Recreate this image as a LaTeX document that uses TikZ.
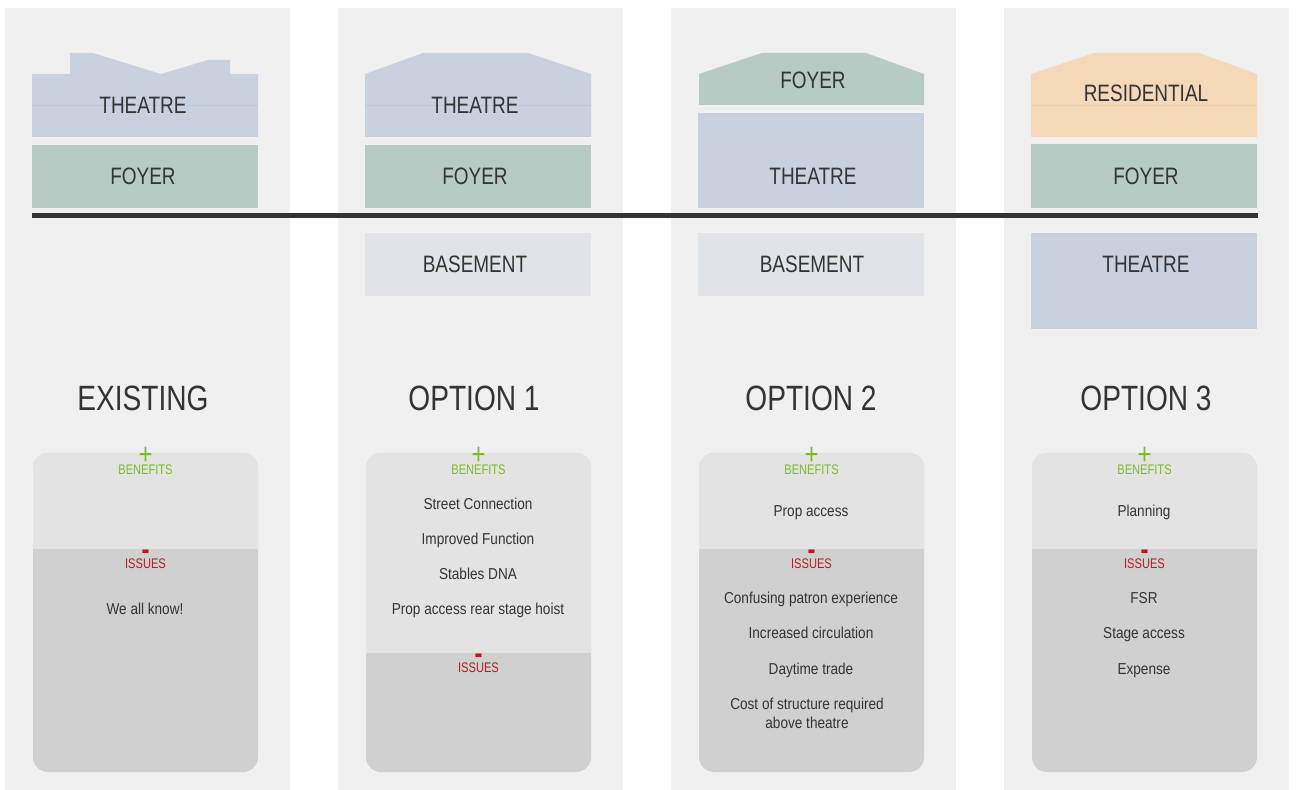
\documentclass[tikz,border=0pt]{standalone}
\usepackage{fontspec}
\setmainfont{Liberation Sans}[FakeStretch=0.8]
\newfontfamily\itemfont{Liberation Sans}[FakeStretch=0.86]
\usetikzlibrary{positioning,calc}
\definecolor{panelgray}{RGB}{240,240,240}
\definecolor{theatreblue}{RGB}{201,208,222}
\definecolor{foyergreen}{RGB}{183,203,197}
\definecolor{residorange}{RGB}{244,216,184}
\definecolor{basegray}{RGB}{224,227,232}
\definecolor{benefitgray}{RGB}{227,227,227}
\definecolor{issuegray}{RGB}{208,208,208}
\definecolor{textdark}{RGB}{52,52,52}
\definecolor{groundgray}{RGB}{51,51,51}
\definecolor{plusgreen}{RGB}{125,186,42}
\definecolor{minusred}{RGB}{192,22,29}

\begin{document}
\begin{tikzpicture}[
    x=0.02cm, y=-0.02cm,
    panel/.style={fill=panelgray},
    theatrefill/.style={fill=theatreblue},
    foyerfill/.style={fill=foyergreen},
    residfill/.style={fill=residorange},
    basefill/.style={fill=basegray},
    splitline/.style={line width=0.3pt},
    ground/.style={line width=0.09cm, draw=groundgray},
    blocklabel/.style={font=\fontsize{13.5}{16}\selectfont, text=textdark},
    optlabel/.style={font=\fontsize{20}{24}\selectfont, text=textdark},
    itemtext/.style={font=\itemfont\fontsize{9}{10.8}\selectfont,
                     text=textdark, align=center, anchor=base,
                     inner sep=0pt},
    benhdr/.style={font=\fontsize{7.9}{9}\selectfont, text=plusgreen,
                   inner sep=0pt},
    isshdr/.style={font=\fontsize{7.9}{9}\selectfont, text=minusred,
                   inner sep=0pt},
    plussign/.style={font=\fontsize{17}{18}\selectfont, text=plusgreen,
                     inner sep=0pt},
    minussign/.style={font=\fontsize{17}{18}\selectfont\bfseries,
                      text=minusred, inner sep=0pt, anchor=base},
  ]

  \useasboundingbox[fill=white] (0,0) rectangle (1296,790);

  % --- Column panels ---
  \foreach \px in {5,338,671,1004}
    \path[panel] (\px,8) rectangle ++(285,782);

  % --- EXISTING ---
  \path[theatrefill] (32,137) -- (32,74) -- (70,74) -- (70,53) -- (93,53)
    -- (161,74) -- (208,60) -- (230,60) -- (230,74) -- (258,74)
    -- (258,137) -- cycle;
  \draw[splitline, theatreblue!95!black] (32,105) -- (258,105);
  \node[blocklabel] (ex-theatre) at (143,105) {THEATRE};
  \path[foyerfill] (32,145) rectangle (258,208);
  \node[blocklabel] (ex-foyer) at (143,176) {FOYER};

  % --- OPTION 1 ---
  \path[theatrefill] (365,137) -- (365,74) -- (423,53) -- (528,53)
    -- (591,74) -- (591,137) -- cycle;
  \draw[splitline, theatreblue!95!black] (365,105) -- (591,105);
  \node[blocklabel] (o1-theatre) at (475,105) {THEATRE};
  \path[foyerfill] (365,145) rectangle (591,208);
  \node[blocklabel] (o1-foyer) at (475,176) {FOYER};
  \path[basefill] (365,233) rectangle (591,296);
  \node[blocklabel] (o1-basement) at (475,264) {BASEMENT};

  % --- OPTION 2 ---
  \path[foyerfill] (699,105) -- (699,74) -- (762,53) -- (866,53)
    -- (924,74) -- (924,105) -- cycle;
  \node[blocklabel] (o2-foyer) at (813,80) {FOYER};
  \path[theatrefill] (698,113) rectangle (924,208);
  \node[blocklabel] (o2-theatre) at (813,176) {THEATRE};
  \path[basefill] (698,233) rectangle (924,296);
  \node[blocklabel] (o2-basement) at (812,264) {BASEMENT};

  % --- OPTION 3 ---
  \path[residfill] (1031,137) -- (1031,74) -- (1094,53) -- (1199,53)
    -- (1257,74) -- (1257,137) -- cycle;
  \draw[splitline, residorange!96!black] (1031,105) -- (1257,105);
  \node[blocklabel] (o3-resid) at (1146,93) {RESIDENTIAL};
  \path[foyerfill] (1031,144) rectangle (1257,208);
  \node[blocklabel] (o3-foyer) at (1146,176) {FOYER};
  \path[theatrefill] (1031,233) rectangle (1257,329);
  \node[blocklabel] (o3-theatre) at (1146,264) {THEATRE};

  % Ground line
  \coordinate (gl-w) at (32,215.5);
  \coordinate (gl-e) at (1258,215.5);
  \draw[ground] (gl-w) -- (gl-e);

  % --- Option titles ---
  \node[optlabel] (ex-title) at (143,398) {EXISTING};
  \node[optlabel] (o1-title) at (474,398) {OPTION 1};
  \node[optlabel] (o2-title) at (811,398) {OPTION 2};
  \node[optlabel] (o3-title) at (1146,398) {OPTION 3};

  % --- Benefits / issues boxes ---
  \foreach \bx/\dy/\nm in {33/549/ex, 366/653/o1, 699/549/o2, 1032/549/o3} {
    \path[fill=issuegray, rounded corners=0.3cm]
      (\bx,453) rectangle ++(225,319);
    \begin{scope}
      \clip[rounded corners=0.3cm] (\bx,453) rectangle ++(225,319);
      \path[fill=benefitgray] (\bx,453) rectangle (\bx+225,\dy);
    \end{scope}
    \node[plussign] (\nm-plus) at (\bx+112.5,455.5) {+};
    \node[benhdr] (\nm-ben) at (\bx+112.5,470) {BENEFITS};
    \node[minussign] (\nm-minus) at (\bx+112.5,559.5-549+\dy) {-};
    \node[isshdr] (\nm-iss) at (\bx+112.5,\dy+15) {ISSUES};
  }

  % Existing items
  \node[itemtext] (ex-iss1) at (145,614.5) {We all know!};

  % Option 1 items
  \foreach \t/\yy [count=\i] in {Street Connection/504,
      Improved Function/539, Stables DNA/574,
      Prop access rear stage hoist/609}
    \node[itemtext] (o1-ben\i) at (478,\yy+5.5) {\t};

  % Option 2 items
  \node[itemtext] (o2-ben1) at (811,516.5) {Prop access};
  \foreach \t/\yy [count=\i] in {Confusing patron experience/598,
      Increased circulation/633, Daytime trade/669}
    \node[itemtext] (o2-iss\i) at (811,\yy+5.5) {\t};
  \node[itemtext, anchor=center] (o2-iss4) at (807,713.5)
    {Cost of structure required\\above theatre};

  % Option 3 items
  \node[itemtext] (o3-ben1) at (1144,516.5) {Planning};
  \foreach \t/\yy [count=\i] in {FSR/598, Stage access/633, Expense/669}
    \node[itemtext] (o3-iss\i) at (1144,\yy+5.5) {\t};

\end{tikzpicture}
\end{document}
